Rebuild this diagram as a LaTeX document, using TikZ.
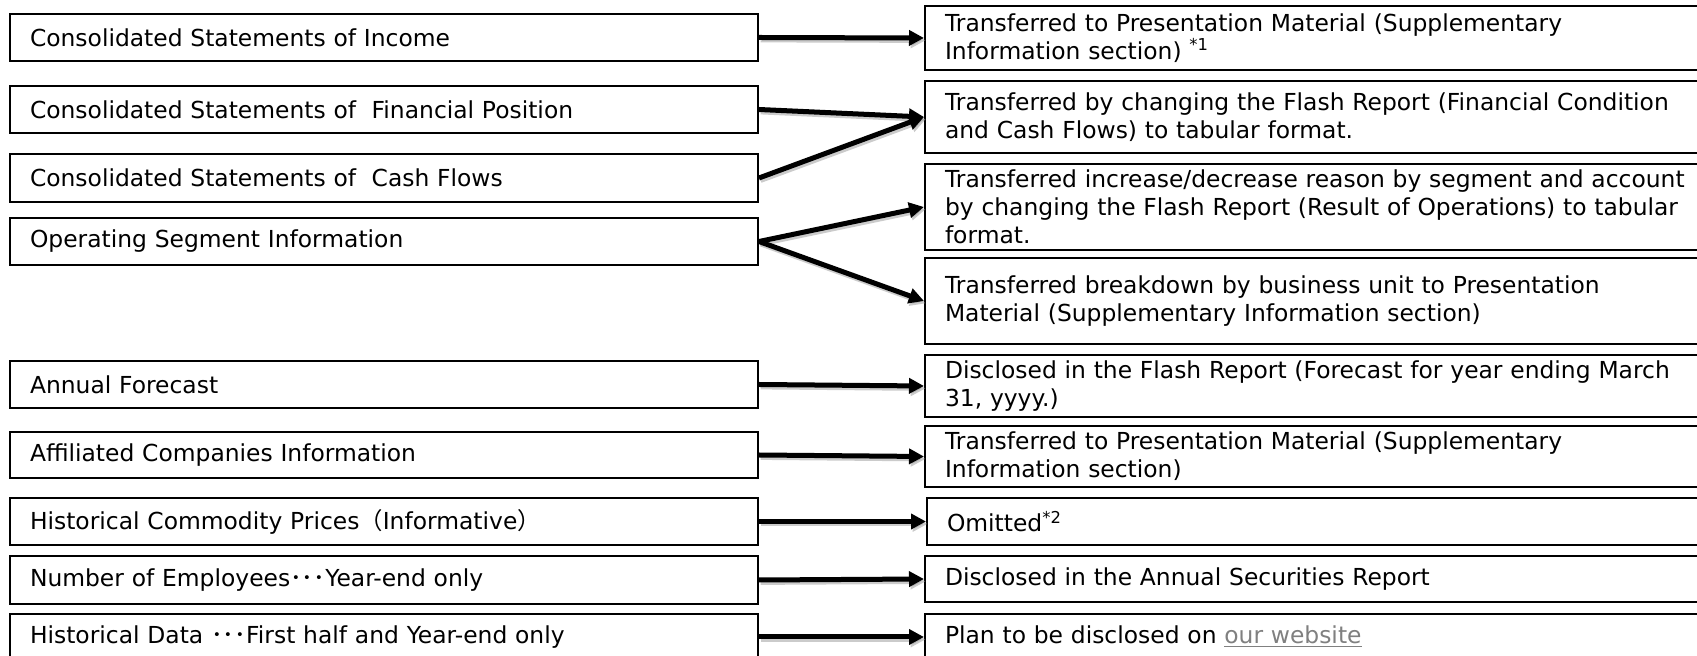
\documentclass[tikz,border=0pt]{standalone}
\usepackage{fontspec}
\setmainfont{DejaVu Sans}
\newfontfamily\cjkfont{Noto Sans CJK JP}
\usetikzlibrary{arrows.meta}
\definecolor{linkgray}{RGB}{128,128,128}
\tikzset{
  lbox/.style={draw=black, line width=1pt, fill=white, anchor=north west,
    minimum width=374pt, inner xsep=10pt, inner ysep=0pt, align=left,
    text width=354pt, font=\fontsize{11.7}{14}\selectfont},
  rbox/.style={draw=black, line width=1pt, fill=white, anchor=north west,
    minimum width=393pt, inner xsep=10pt, inner ysep=0pt, align=left,
    text width=373pt, font=\fontsize{11.7}{14}\selectfont},
  arr/.style={line width=2.5pt, -{Triangle[length=7.5pt,width=7.5pt]},
    preaction={draw=black!40, opacity=0.5, line width=2.5pt,
      transform canvas={xshift=0.8pt,yshift=-1.2pt}}},
}
\begin{document}
\begin{tikzpicture}[x=0.5pt,y=-0.5pt]
\useasboundingbox (0,0) rectangle (1697,656);
\clip (0,0) rectangle (1697,656);
\fill[white] (0,0) rectangle (1697,656);
% left boxes
\node[lbox, minimum height=23.5pt] (L1) at (9,13) {Consolidated Statements of Income};
\node[lbox, minimum height=23.5pt] (L2) at (9,85) {Consolidated Statements of \ Financial Position};
\node[lbox, minimum height=24pt] (L3) at (9,153) {Consolidated Statements of \ Cash Flows};
\node[lbox, minimum height=23.5pt] (L4) at (9,217) {Operating Segment Information};
\node[lbox, minimum height=23.5pt] (L5) at (9,360) {Annual Forecast};
\node[lbox, minimum height=23pt] (L6) at (9,431) {Affiliated Companies Information};
\node[lbox, minimum height=23.5pt] (L7) at (9,497) {Historical Commodity Prices{\cjkfont （}Informative{\cjkfont ）}};
\node[lbox, minimum height=24pt] (L8) at (9,555) {Number of Employees{\cjkfont ･･･}Year-end only};
\node[lbox, minimum height=23pt] (L9) at (9,613) {Historical Data {\cjkfont ･･･}First half and Year-end only};
% right boxes
\node[rbox, minimum height=32pt] (R1) at (924,5) {Transferred to Presentation Material (Supplementary\\Information section) \textsuperscript{*1}};
\node[rbox, minimum height=36pt] (R2) at (924,80) {Transferred by changing the Flash Report (Financial Condition\\and Cash Flows) to tabular format.};
\node[rbox, minimum height=43pt] (R3) at (924,163) {Transferred increase/decrease reason by segment and account\\by changing the Flash Report (Result of Operations) to tabular\\format.};
\node[rbox, minimum height=43pt] (R4) at (924,257) {Transferred breakdown by business unit to Presentation\\Material (Supplementary Information section)};
\node[rbox, minimum height=31pt] (R5) at (924,354) {Disclosed in the Flash Report (Forecast for year ending March\\31, yyyy.)};
\node[rbox, minimum height=30.5pt] (R6) at (924,425) {Transferred to Presentation Material (Supplementary\\Information section)};
\node[rbox, minimum height=23.5pt] (R7) at (926,497) {Omitted\textsuperscript{*2}};
\node[rbox, minimum height=23pt] (R8) at (924,555) {Disclosed in the Annual Securities Report};
\node[rbox, minimum height=23pt] (R9) at (924,613) {Plan to be disclosed on {\color{linkgray}\underline{our website}}};
% arrows
\draw[arr] (L1.east) -- (R1.west);
\draw[arr] (L2.east) -- (R2.west);
\draw[arr] (L3.east) -- (R2.west);
\draw[arr] (L4.east) -- (R3.west);
\draw[arr] (L4.east) -- (R4.west);
\draw[arr] (L5.east) -- (R5.west);
\draw[arr] (L6.east) -- (R6.west);
\draw[arr] (L7.east) -- (R7.west);
\draw[arr] (L8.east) -- (R8.west);
\draw[arr] (L9.east) -- (R9.west);
\end{tikzpicture}
\end{document}
